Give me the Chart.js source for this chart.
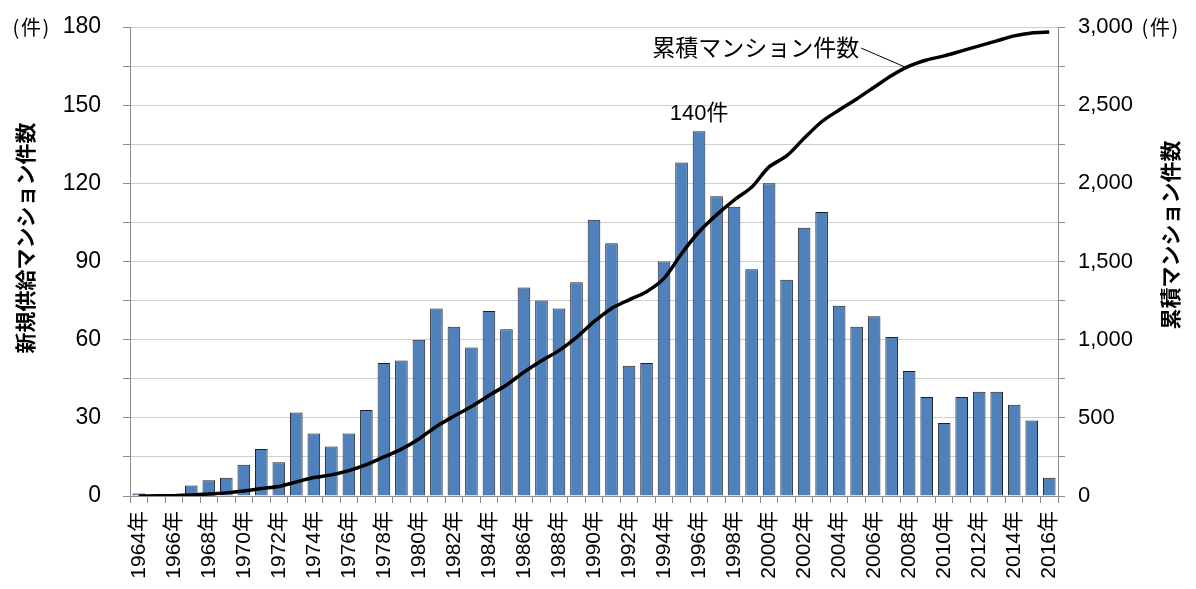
<!DOCTYPE html>
<html lang="ja">
<head>
<meta charset="utf-8">
<script src="https://cdn.jsdelivr.net/npm/chart.js@4.4.1/dist/chart.umd.min.js"></script>
<style>
  html, body { margin: 0; padding: 0; background: #fff; }
  #wrap { width: 1196px; height: 589px; }
</style>
</head>
<body>
<div id="wrap"><canvas id="chart"></canvas></div>
<script>
const years = [
  '1964年', '1965年', '1966年', '1967年', '1968年', '1969年', '1970年', '1971年', '1972年',
  '1973年', '1974年', '1975年', '1976年', '1977年', '1978年', '1979年', '1980年', '1981年', '1982年',
  '1983年', '1984年', '1985年', '1986年', '1987年', '1988年', '1989年', '1990年', '1991年', '1992年',
  '1993年', '1994年', '1995年', '1996年', '1997年', '1998年', '1999年', '2000年', '2001年', '2002年',
  '2003年', '2004年', '2005年', '2006年', '2007年', '2008年', '2009年', '2010年', '2011年', '2012年',
  '2013年', '2014年', '2015年', '2016年'
];

// 新規供給マンション件数 (left axis)
const newSupply = [
  1, 0, 0, 4, 6, 7, 12, 18, 13,
  32, 24, 19, 24, 33, 51, 52, 60, 72, 65,
  57, 71, 64, 80, 75, 72, 82, 106, 97, 50,
  51, 90, 128, 140, 115, 111, 87, 120, 83, 103,
  109, 73, 65, 69, 61, 48, 38, 28, 38, 40,
  40, 35, 29, 7
];

// 累積マンション件数 (right axis)
const cumulative = [
  0, 1, 2, 6, 13, 20, 32, 48, 61,
  90, 118, 135, 162, 200, 250, 300, 365, 445, 510,
  572, 643, 710, 792, 865, 930, 1015, 1115, 1200, 1255,
  1307, 1392, 1550, 1690, 1798, 1893, 1975, 2105, 2175, 2288,
  2394, 2469, 2540, 2615, 2690, 2750, 2789, 2815, 2847, 2879,
  2911, 2943, 2962, 2968
];

const leftTicks = [0, 30, 60, 90, 120, 150, 180];
const rightTicks = [0, 500, 1000, 1500, 2000, 2500, 3000];

const peakIndex = 32;     // 1996年 140件
const calloutIndex = 44;  // leader line meets the cumulative line here

const numFont = "'Liberation Sans', 'Noto Sans CJK JP', sans-serif";
const jpFont = "'Noto Sans CJK JP', sans-serif";
const axisGray = '#8c8c8c';

// "(件)" drawn piece by piece so the brackets sit close like the original
function unitLabel(ctx, cx, cy) {
  ctx.font = `20px ${jpFont}`;
  ctx.textBaseline = 'middle';
  ctx.textAlign = 'center';
  ctx.fillText('件', cx, cy);
  ctx.fillText('(', cx - 15, cy);
  ctx.fillText(')', cx + 15, cy);
}

const extras = {
  id: 'extras',
  afterDatasetsDraw(chart) {
    const ctx = chart.ctx;
    const x = chart.scales.x;
    const y = chart.scales.y;
    const y1 = chart.scales.y1;
    ctx.save();
    ctx.fillStyle = '#000';

    unitLabel(ctx, 31, y.getPixelForValue(180));
    unitLabel(ctx, 1160, y.getPixelForValue(180));

    // peak label
    ctx.font = `22px ${numFont}`;
    ctx.textAlign = 'center';
    ctx.textBaseline = 'bottom';
    ctx.fillText('140件', x.getPixelForValue(peakIndex), y.getPixelForValue(140) - 6);

    // callout for the line
    const ex = x.getPixelForValue(calloutIndex) - 4;
    const ey = y1.getPixelForValue(cumulative[calloutIndex]) + 1;
    const sx = ex - 44;
    const sy = ey - 19;
    ctx.strokeStyle = '#000';
    ctx.lineWidth = 1;
    ctx.beginPath();
    ctx.moveTo(sx, sy);
    ctx.lineTo(ex, ey);
    ctx.stroke();
    ctx.font = `23px ${jpFont}`;
    ctx.textAlign = 'right';
    ctx.textBaseline = 'middle';
    ctx.fillText('累積マンション件数', sx - 2, sy - 1);

    // axis titles
    ctx.font = `bold 21px ${jpFont}`;
    ctx.textAlign = 'center';
    ctx.textBaseline = 'middle';
    ctx.translate(25, 238);
    ctx.rotate(-Math.PI / 2);
    ctx.fillText('新規供給マンション件数', 0, 0);
    ctx.restore();

    ctx.save();
    ctx.fillStyle = '#000';
    ctx.font = `bold 21px ${jpFont}`;
    ctx.textAlign = 'center';
    ctx.textBaseline = 'middle';
    ctx.translate(1170, 235);
    ctx.rotate(-Math.PI / 2);
    ctx.fillText('累積マンション件数', 0, 0);
    ctx.restore();
  }
};

const ctx = document.getElementById('chart').getContext('2d');

new Chart(ctx, {
  data: {
    labels: years,
    datasets: [
      {
        type: 'line',
        label: '累積マンション件数',
        data: cumulative,
        yAxisID: 'y1',
        borderColor: '#000',
        borderWidth: 3.5,
        pointRadius: 0,
        tension: 0.3,
        order: 0
      },
      {
        type: 'bar',
        label: '新規供給マンション件数',
        data: newSupply,
        yAxisID: 'y',
        backgroundColor: '#4f81bd',
        borderColor: '#1f1f1f',
        borderWidth: 1,
        barPercentage: 0.72,
        categoryPercentage: 1,
        order: 1
      }
    ]
  },
  options: {
    responsive: true,
    maintainAspectRatio: false,
    animation: false,
    layout: { padding: { top: 27, left: 0, right: 0, bottom: 0 } },
    plugins: {
      legend: { display: false },
      tooltip: { enabled: false }
    },
    scales: {
      x: {
        offset: true,
        grid: {
          offset: true,
          drawOnChartArea: false,
          tickLength: 7,
          color: axisGray
        },
        border: { color: axisGray },
        ticks: {
          autoSkip: false,
          maxRotation: 90,
          minRotation: 90,
          padding: 8,
          color: '#000',
          font: { family: numFont, size: 21 },
          callback: (v, i) => (i % 2 === 0 ? years[i] : '')
        },
        afterFit: scale => { scale.height = 93; }
      },
      y: {
        position: 'left',
        min: 0,
        max: 180,
        grid: { color: '#cfcfcf', tickColor: axisGray, tickLength: 7 },
        border: { color: axisGray },
        ticks: {
          stepSize: 15,
          padding: 22,
          color: '#000',
          font: { family: numFont, size: 23, lineHeight: 0.4 },
          callback: v => (leftTicks.includes(v) ? String(v) : '')
        },
        afterFit: scale => { scale.width = 130; }
      },
      y1: {
        position: 'right',
        min: 0,
        max: 3000,
        grid: { drawOnChartArea: false, tickColor: axisGray, tickLength: 7 },
        border: { color: axisGray },
        ticks: {
          stepSize: 250,
          padding: 13,
          color: '#000',
          font: { family: numFont, size: 22, lineHeight: 0.6 },
          callback: v => (rightTicks.includes(v) ? v.toLocaleString('en-US') : '')
        },
        afterFit: scale => { scale.width = 138; }
      }
    }
  },
  plugins: [extras]
});
</script>
</body>
</html>
